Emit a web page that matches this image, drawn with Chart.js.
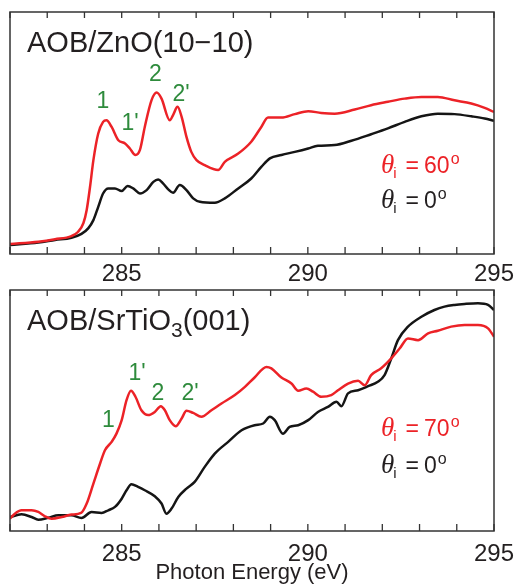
<!DOCTYPE html>
<html>
<head>
<meta charset="utf-8">
<script src="https://cdn.jsdelivr.net/npm/chart.js@4.4.0/dist/chart.umd.min.js"></script>
<style>
body{margin:0;background:#fff;}
#wrap{position:relative;width:515px;height:588px;font-family:"Liberation Sans",Arial,sans-serif;color:#231f20;}
canvas{position:absolute;left:0;}
.t{position:absolute;line-height:1;white-space:nowrap;}
.title{font-size:29px;}
.title .sub{font-size:21px;vertical-align:-7px;}
.pk{font-size:23px;color:#2e8b3c;transform:translateX(-50%);}
.leg{font-size:23px;}
.leg .th{font-family:"Liberation Serif",serif;font-style:italic;font-size:27px;}
.leg .sb{font-size:15px;vertical-align:-5px;margin-left:-1px;}
.leg .eq{margin-left:9px;}
.leg .num{margin-left:5px;}
.leg .sp{font-size:16px;vertical-align:9px;margin-left:1px;}
.red{color:#ec2227;}
</style>
</head>
<body>
<div id="wrap">
  <canvas id="topChart" width="515" height="285" style="top:0"></canvas>
  <canvas id="botChart" width="515" height="303" style="top:285px"></canvas>

  <div class="t title" style="left:27px;top:28.4px">AOB/ZnO(10&minus;10)</div>
  <div class="t pk" style="left:103px;top:88.8px">1</div>
  <div class="t pk" style="left:130px;top:110.5px">1'</div>
  <div class="t pk" style="left:155.5px;top:62.2px">2</div>
  <div class="t pk" style="left:181px;top:82.2px">2'</div>
  <div class="t leg red" style="left:381px;top:150.5px"><span class="th">θ</span><span class="sb">i</span><span class="eq">=</span><span class="num">60</span><span class="sp">o</span></div>
  <div class="t leg" style="left:381px;top:185.5px"><span class="th">θ</span><span class="sb">i</span><span class="eq">=</span><span class="num">0</span><span class="sp">o</span></div>

  <div class="t title" style="left:27px;top:306.1px">AOB/SrTiO<span class="sub">3</span>(001)</div>
  <div class="t pk" style="left:108.5px;top:408.2px">1</div>
  <div class="t pk" style="left:137px;top:361.2px">1'</div>
  <div class="t pk" style="left:158px;top:381.2px">2</div>
  <div class="t pk" style="left:190px;top:381.2px">2'</div>
  <div class="t leg red" style="left:381px;top:413.8px"><span class="th">θ</span><span class="sb">i</span><span class="eq">=</span><span class="num">70</span><span class="sp">o</span></div>
  <div class="t leg" style="left:381px;top:450.5px"><span class="th">θ</span><span class="sb">i</span><span class="eq">=</span><span class="num">0</span><span class="sp">o</span></div>
</div>
<script>
// ===== axis =====
const eMin=282, eMax=295;
const tickLabels=[285,290,295];

// ===== AOB/ZnO(10-10): red = 60 deg, black = 0 deg (intensity, arb. units) =====
const znoRedE=[282.00,282.76,283.21,283.65,283.83,283.97,284.06,284.15,284.24,284.37,284.50,284.59,284.73,284.91,285.09,285.22,285.37,285.49,285.62,285.80,285.94,286.07,286.29,286.38,286.50,286.61,286.74,286.87,287.01,287.23,287.59,287.77,288.13,288.48,288.75,288.93,289.29,289.65,290.01,290.36,290.72,291.26,291.70,292.15,292.60,293.05,293.49,293.94,294.39,294.75,295.00];
const znoRedI=[4.1,5.1,6.1,7.4,9.2,12.7,18.2,27.8,38.8,49.8,54.6,55.3,52.5,47.0,45.7,43.6,40.9,43.0,52.5,63.5,66.7,64.2,55.3,57.4,60.8,56.7,48.4,42.2,38.8,36.7,34.7,38.1,41.5,46.4,52.5,56.4,56.4,57.8,59.0,58.3,58.0,59.7,61.5,62.9,64.2,64.9,64.9,63.5,62.2,60.4,58.7];
const znoBlackE=[282.00,282.76,283.21,283.65,283.92,284.10,284.24,284.37,284.50,284.64,284.82,285.00,285.16,285.31,285.49,285.67,285.85,285.98,286.11,286.25,286.38,286.56,286.74,286.92,287.10,287.50,287.77,288.13,288.48,288.75,288.98,289.29,289.65,290.01,290.27,290.72,291.17,291.70,292.15,292.60,293.05,293.49,293.94,294.39,294.75,295.00];
const znoBlackI=[3.7,4.8,5.8,6.7,8.3,10.6,14.0,19.5,25.0,27.1,27.1,26.0,28.1,27.1,25.0,26.4,29.8,30.8,29.2,26.7,25.3,28.5,26.4,23.0,21.6,21.2,23.0,27.1,31.2,36.0,39.5,40.9,42.2,43.6,44.7,45.0,46.8,49.5,51.9,54.6,56.9,58.0,57.8,56.9,56.0,55.0];

// ===== AOB/SrTiO3(001): red = 70 deg, black = 0 deg =====
const stoRedE=[282.00,282.13,282.31,282.58,282.76,282.94,283.12,283.39,283.65,283.91,284.06,284.24,284.42,284.55,284.73,284.86,285.00,285.13,285.25,285.37,285.53,285.71,285.89,286.05,286.16,286.29,286.45,286.61,286.74,286.92,287.14,287.41,287.68,288.04,288.31,288.57,288.89,289.02,289.29,289.56,289.74,289.96,290.14,290.36,290.63,290.81,291.08,291.35,291.53,291.70,291.97,292.24,292.47,292.69,292.96,293.23,293.49,293.85,294.21,294.57,294.84,295.00];
const stoRedI=[5.1,7.2,8.6,8.6,7.9,6.1,5.1,5.8,6.8,7.5,11.4,19.7,28.0,33.5,37.0,40.4,46.0,54.3,58.2,55.7,50.1,48.1,49.4,51.8,50.1,46.0,43.5,46.7,49.9,49.0,47.4,50.1,52.9,56.4,59.8,63.7,68.1,67.5,63.7,61.2,58.2,59.1,57.8,55.7,56.4,58.4,61.2,62.3,60.5,64.7,67.5,71.6,75.8,79.9,79.2,82.0,83.1,84.8,85.5,85.5,84.1,80.6];
const stoBlackE=[282.00,282.31,282.58,282.76,283.03,283.30,283.65,283.92,284.19,284.46,284.64,284.82,285.00,285.13,285.26,285.44,285.62,285.89,286.07,286.20,286.34,286.52,286.74,286.96,287.23,287.50,287.86,288.22,288.57,288.80,288.98,289.11,289.33,289.51,289.74,290.01,290.27,290.54,290.77,290.90,291.08,291.35,291.62,291.88,292.06,292.24,292.42,292.69,293.05,293.40,293.67,293.94,294.21,294.57,294.84,295.00];
const stoBlackI=[5.8,6.9,5.8,4.7,5.5,6.5,6.5,5.4,7.9,7.5,8.6,10.0,13.4,16.9,19.4,18.3,16.9,14.4,11.4,7.2,9.3,14.1,17.6,20.4,26.6,32.1,37.0,41.8,43.9,44.6,47.4,46.0,40.4,43.2,43.9,46.0,49.4,51.5,53.6,51.8,57.1,58.4,60.1,61.9,64.7,71.6,79.2,84.8,88.9,91.7,93.1,93.8,94.2,94.5,93.8,91.7];

const RED='#ec2227', BLACK='#151515';

function pts(xs,ys){ return xs.map((x,i)=>({x:x,y:ys[i]})); }

// frame + inward ticks on top and bottom edges
const framePlugin={
  id:'frame',
  afterDraw(chart){
    const {ctx,chartArea:a,scales:{x}}=chart;
    ctx.save();
    ctx.strokeStyle='#333';
    ctx.lineWidth=1.5;
    ctx.strokeRect(a.left,a.top,a.right-a.left,a.bottom-a.top);
    ctx.lineWidth=1.3;
    ctx.beginPath();
    x.ticks.forEach(t=>{
      const px=x.getPixelForValue(t.value);
      ctx.moveTo(px,a.bottom); ctx.lineTo(px,a.bottom-7);
      ctx.moveTo(px,a.top); ctx.lineTo(px,a.top+6);
    });
    ctx.stroke();
    ctx.restore();
  }
};

function makePanel(id,red,black,padTop,axisH,tickPad,title){
  return new Chart(document.getElementById(id),{
    type:'line',
    data:{datasets:[
      {data:red,borderColor:RED,borderWidth:2.5,pointRadius:0,cubicInterpolationMode:'monotone'},
      {data:black,borderColor:BLACK,borderWidth:2.5,pointRadius:0,cubicInterpolationMode:'monotone'}
    ]},
    options:{
      responsive:false,animation:false,
      layout:{padding:{left:10,right:21,top:padTop,bottom:0}},
      plugins:{legend:{display:false},tooltip:{enabled:false}},
      scales:{
        x:{type:'linear',min:eMin,max:eMax,
           grid:{display:false,drawTicks:false},border:{display:false},
           afterFit:s=>{s.height=axisH;s.paddingLeft=0;s.paddingRight=0;},
           ticks:{stepSize:1,autoSkip:false,maxRotation:0,padding:tickPad,color:'#231f20',
                  font:{family:'"Liberation Sans", Arial, sans-serif',size:24},
                  callback:v=>tickLabels.includes(v)?String(v):''},
           title:{display:!!title,text:title||'',color:'#231f20',padding:{top:0,bottom:2},
                  font:{family:'"Liberation Sans", Arial, sans-serif',size:22}}
        },
        y:{display:false,min:0,max:100}
      }
    },
    plugins:[framePlugin]
  });
}

makePanel('topChart',pts(znoRedE,znoRedI),pts(znoBlackE,znoBlackI),12,31,6,null);
makePanel('botChart',pts(stoRedE,stoRedI),pts(stoBlackE,stoBlackI),5,57,8.5,'Photon Energy (eV)');
</script>
</body>
</html>
